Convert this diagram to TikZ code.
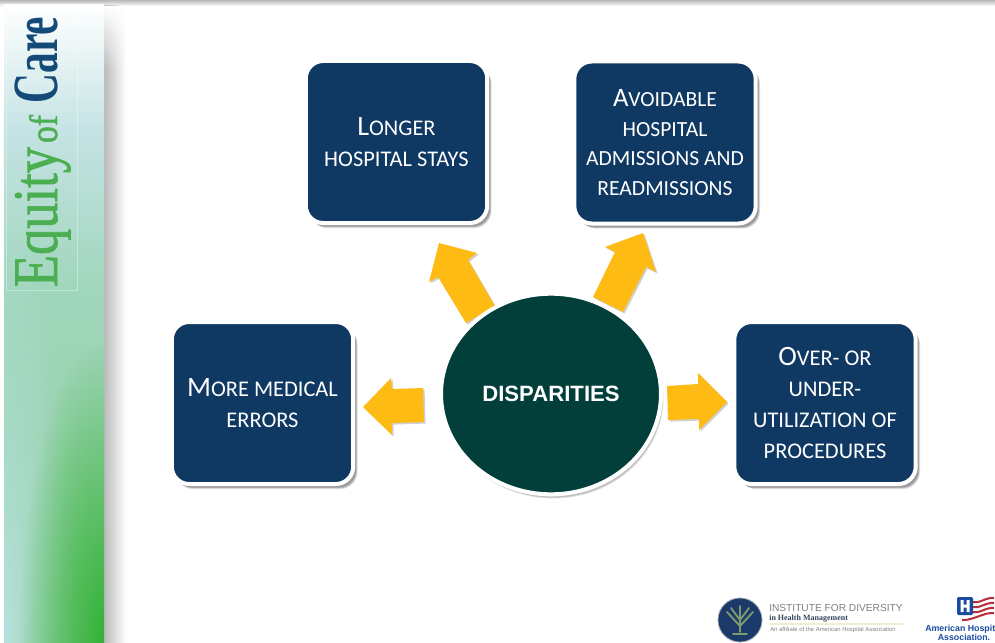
\documentclass[tikz,border=0pt]{standalone}
\usepackage{fontspec}
\usetikzlibrary{shadows,fadings,shapes.geometric}
\setmainfont{Carlito}
\newfontfamily\arialf{Liberation Sans}
\newfontfamily\timesf{Liberation Serif}
\newfontfamily\timesfat[FakeBold=1.2]{Liberation Serif}
\newcommand\Bg[1]{{\fontsize{21}{23}\selectfont #1}}
\newcommand\Bh[1]{{\fontsize{20}{22}\selectfont #1}}
\definecolor{navybox}{HTML}{0F3862}
\definecolor{darkteal}{HTML}{023F3B}
\definecolor{amber}{HTML}{FDBB14}
\definecolor{eqgreen}{HTML}{4BAE50}
\definecolor{eqblue}{HTML}{134A78}
\definecolor{sideA}{RGB}{197,227,228}
\definecolor{sideB}{RGB}{160,214,188}
\definecolor{sideC}{RGB}{140,205,150}
\definecolor{sideL}{RGB}{185,226,226}
\definecolor{sideG}{RGB}{50,178,55}
\definecolor{logonavy}{RGB}{28,58,105}
\definecolor{logoring}{RGB}{150,165,175}
\definecolor{logotree}{RGB}{125,155,110}
\definecolor{logotext}{RGB}{50,70,90}
\definecolor{logoline}{RGB}{240,238,205}
\definecolor{ahablue}{RGB}{25,75,160}
\definecolor{ahared}{RGB}{185,45,55}
\tikzfading[name=faderadial, inner color=transparent!0, outer color=transparent!100]
\tikzfading[name=fadedown, top color=transparent!0, bottom color=transparent!100]
\tikzset{
  x=0.75pt,y=-0.75pt,
  softshadow/.style={
    drop shadow={shadow xshift=3.3pt,shadow yshift=-3.9pt,opacity=.12,fill=black!80},
    drop shadow={shadow xshift=2.8pt,shadow yshift=-3.3pt,opacity=.22,fill=black!80},
    drop shadow={shadow xshift=2.2pt,shadow yshift=-2.7pt,opacity=.3,fill=black!70}},
  hubshadow/.style={
    drop shadow={shadow xshift=1.8pt,shadow yshift=-3.1pt,opacity=.14,fill=black!80},
    drop shadow={shadow xshift=1.4pt,shadow yshift=-2.5pt,opacity=.22,fill=black!70}},
  infobox/.style={rectangle,rounded corners=13pt,fill=navybox,draw=white,line width=3pt,
    minimum width=136pt,minimum height=121.5pt,inner sep=3pt,align=center,text=white,
    font=\fontsize{16.8}{23.25}\selectfont,softshadow},
  hubnode/.style={ellipse,fill=darkteal,draw=white,line width=3pt,minimum width=165pt,minimum height=150.5pt,
    inner sep=0pt,text=white,font=\arialf\bfseries\fontsize{16.6}{20}\selectfont,hubshadow},
  blockarrow/.style={fill=amber,drop shadow={shadow xshift=1.2pt,shadow yshift=-1.2pt,opacity=.3,fill=black!60}},
}
\begin{document}
\begin{tikzpicture}
\useasboundingbox (0,0) rectangle (995,642);
\begin{scope}
\clip (0,0) rectangle (995,642);
\fill[white] (0,0) rectangle (995,642);
% top band and sidebar shadow
\shade[top color=black!28,bottom color=white] (0,0) rectangle (995,6);
\shade[left color=black!27,right color=white] (104,6) rectangle (126,642);
\fill[white,path fading=fadedown] (104,6) rectangle (127,70);
% sidebar
\shade[top color=white,bottom color=sideA] (4,5) rectangle (104,130);
\shade[top color=sideA,bottom color=sideB] (4,130) rectangle (104,290);
\shade[top color=sideB,bottom color=sideC] (4,290) rectangle (104,642);
\begin{scope}
\clip (4,0) rectangle (104,642);
\fill[sideL,path fading=faderadial] (0,642) ellipse (75 and 420);
\fill[sideG,path fading=faderadial] (104,642) ellipse (85 and 300);
\end{scope}
% sidebar title
\draw[white,opacity=.35,line width=.5pt] (6,10) rectangle (77,290);
\node[anchor=base,rotate=90,inner sep=0pt,text=eqgreen] (eqone) at (57,217) {\resizebox{105pt}{31.5pt}{\timesfat Equity}};
\node[anchor=base,rotate=90,inner sep=0pt,text=eqgreen] (eqtwo) at (57,129) {\resizebox{21pt}{21pt}{\timesfat of}};
\node[anchor=base,rotate=90,inner sep=0pt,text=eqblue] (eqthree) at (57,60) {\resizebox{65pt}{32pt}{\timesf\bfseries Care}};
% arrows
\fill[blockarrow] (439,243) -- (477,253) -- (468,260) -- (495,306) -- (466,323) -- (438,277) -- (429,282) -- cycle;
\fill[blockarrow] (643,233) -- (656,272) -- (646,267) -- (623,312) -- (593,297) -- (615,252) -- (605,247) -- cycle;
\fill[blockarrow] (363,407) -- (391,378) -- (392,389) -- (423,388) -- (424,422) -- (392,423) -- (392,435) -- cycle;
\fill[blockarrow] (667,386) -- (698,384) -- (698,373) -- (727,402) -- (699,430) -- (699,419) -- (668,420) -- cycle;
% boxes
\node[infobox] (stays) at (396.5,142) {\Bg{L}ONGER\\HOSPITAL STAYS};
\node[infobox,font=\fontsize{16.2}{22.3}\selectfont] (admissions) at (665,142.5) {\Bh{A}VOIDABLE\\HOSPITAL\\ADMISSIONS AND\\READMISSIONS};
\node[infobox] (errors) at (262.5,403) {\Bg{M}ORE MEDICAL\\ERRORS};
\node[infobox] (procedures) at (825,403) {\Bg{O}VER- OR\\UNDER-\\UTILIZATION OF\\PROCEDURES};
\node[hubnode] (hub) at (551,394) {DISPARITIES};
% institute logo
\fill[logonavy] (740,620) circle (22);
\draw[logoring,line width=.6pt] (740,620) circle (22);
\draw[logotree,line width=1.4pt,line cap=round] (740,632) -- (740,606) (740,626) -- (727,612) (740,626) -- (753,612) (740,620) -- (731,608) (740,620) -- (749,608) (733,634) -- (747,634);
\node[anchor=west,inner sep=0pt,text=black!50] (insta) at (769,608) {\resizebox{100pt}{!}{\arialf INSTITUTE FOR DIVERSITY}};
\node[anchor=west,inner sep=0pt,text=logotext] (instb) at (769,618.5) {\resizebox{59pt}{!}{\timesf\bfseries in Health Management}};
\fill[logoline] (770,623) rectangle (903,625);
\node[anchor=west,inner sep=0pt,text=black!50] (instc) at (770,630) {\resizebox{94pt}{!}{\arialf An affiliate of the American Hospital Association}};
% AHA logo
\fill[ahablue,rounded corners=1pt] (957,597) rectangle (973,615);
\fill[white] (960.5,600) rectangle (963.5,612) (966.5,600) rectangle (969.5,612) (960.5,604.5) rectangle (969.5,607.5);
\draw[ahared,line width=1.5pt] (973,602) .. controls (979,604) and (986,597) .. (994,598);
\draw[ahared,line width=1.5pt] (973,607) .. controls (979,609) and (986,602) .. (994,603);
\draw[ahared,line width=1.5pt] (973,612) .. controls (979,614) and (986,607) .. (994,608);
\draw[ahared,line width=1.5pt] (962,620) .. controls (972,621) and (984,612) .. (994,613);
\node[anchor=west,inner sep=0pt,text=ahablue,font=\arialf\bfseries\fontsize{6.6}{8}\selectfont] (ahaa) at (925,629.5) {American Hospit};
\node[inner sep=0pt,text=ahablue,font=\arialf\bfseries\fontsize{6.6}{8}\selectfont] (ahab) at (964,637.5) {Association.};
\end{scope}
\end{tikzpicture}
\end{document}
